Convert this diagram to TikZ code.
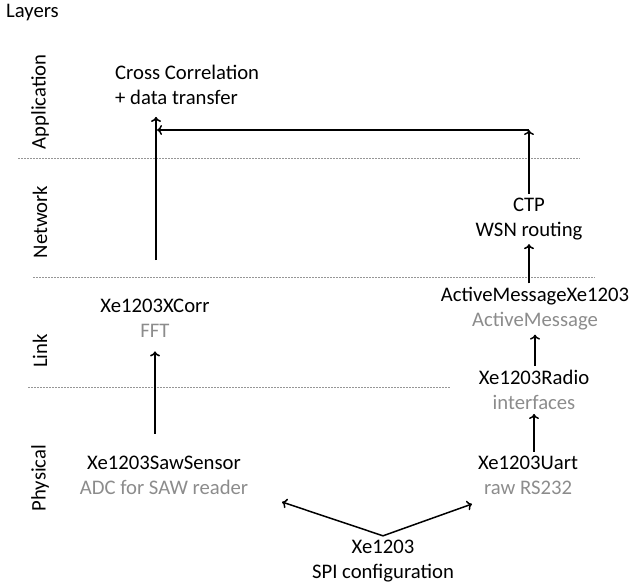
\documentclass[tikz,border=0pt]{standalone}
\usepackage{fontspec}
\setmainfont{Carlito}
\usetikzlibrary{positioning, arrows.meta}
\definecolor{subgrey}{RGB}{140,140,140}
\definecolor{sepgrey}{RGB}{150,150,150}

\begin{document}
\begin{tikzpicture}[x=1pt, y=-1pt,
    lbl/.style={align=center, font=\fontsize{20.7}{25}\selectfont, inner sep=4pt},
    layer/.style={rotate=90, font=\fontsize{20.7}{22}\selectfont, inner sep=0pt},
    sep/.style={sepgrey, dash pattern=on 2pt off 1pt, line width=0.7pt},
    flow/.style={-{To[length=5pt, width=10pt]}, line width=1.5pt}]
    \useasboundingbox (0,0) rectangle (629,587);

    % layer names
    \node (layers) [anchor=west, font=\fontsize{20.7}{22}\selectfont, inner sep=0pt] at (6,13) {Layers};
    \node (application) [layer] at (40,102) {Application};
    \node (network) [layer] at (40,222) {Network};
    \node (link) [layer] at (40,351) {Link};
    \node (physical) [layer] at (40,478) {Physical};

    % layer borders
    \draw[sep] (18,158) -- (580,158);
    \draw[sep] (33,277) -- (595,277);
    \draw[sep] (28,387) -- (450,387);

    % components
    \node (correlation) [lbl, align=left, anchor=north west] at (111,61) {Cross Correlation\\+ data transfer};
    \node (ctp) [lbl] at (529,219) {CTP\\WSN routing};
    \node (activemsg) [lbl] at (535,309) {ActiveMessageXe1203\\\textcolor{subgrey}{ActiveMessage}};
    \node (radio) [lbl] at (534,390) {Xe1203Radio\\\textcolor{subgrey}{interfaces}};
    \node (uart) [lbl] at (528,475) {Xe1203Uart\\\textcolor{subgrey}{raw RS232}};
    \node (xcorr) [lbl] at (155,318) {Xe1203XCorr\\\textcolor{subgrey}{FFT}};
    \node (sawsensor) [lbl] at (164,475) {Xe1203SawSensor\\\textcolor{subgrey}{ADC for SAW reader}};
    \node (spi) [lbl] at (383,561) {Xe1203\\SPI configuration};

    \coordinate (linkup) at (156,260);
    \coordinate (bend) at (529,130);
    \coordinate (sawtip) at (282,502);
    \coordinate (uarttip) at (472,504);

    % data flow
    \draw[flow, shorten >=8pt] (linkup) -- (linkup |- correlation.south);
    \draw[flow] (ctp.north) -- (bend);
    \draw[flow, shorten >=1pt] (bend) -- (bend -| linkup);
    \draw[flow] (activemsg.north -| ctp.south) -- (ctp.south);
    \draw[flow] (radio.north -| activemsg) -- (activemsg.south);
    \draw[flow] (uart.north -| radio) -- (radio.south);
    \draw[flow, shorten <=18pt, shorten >=10pt] (sawsensor.north -| xcorr) -- (xcorr.south);
    \draw[flow] (spi.north) -- (sawtip);
    \draw[flow] (spi.north) -- (uarttip);
\end{tikzpicture}
\end{document}
